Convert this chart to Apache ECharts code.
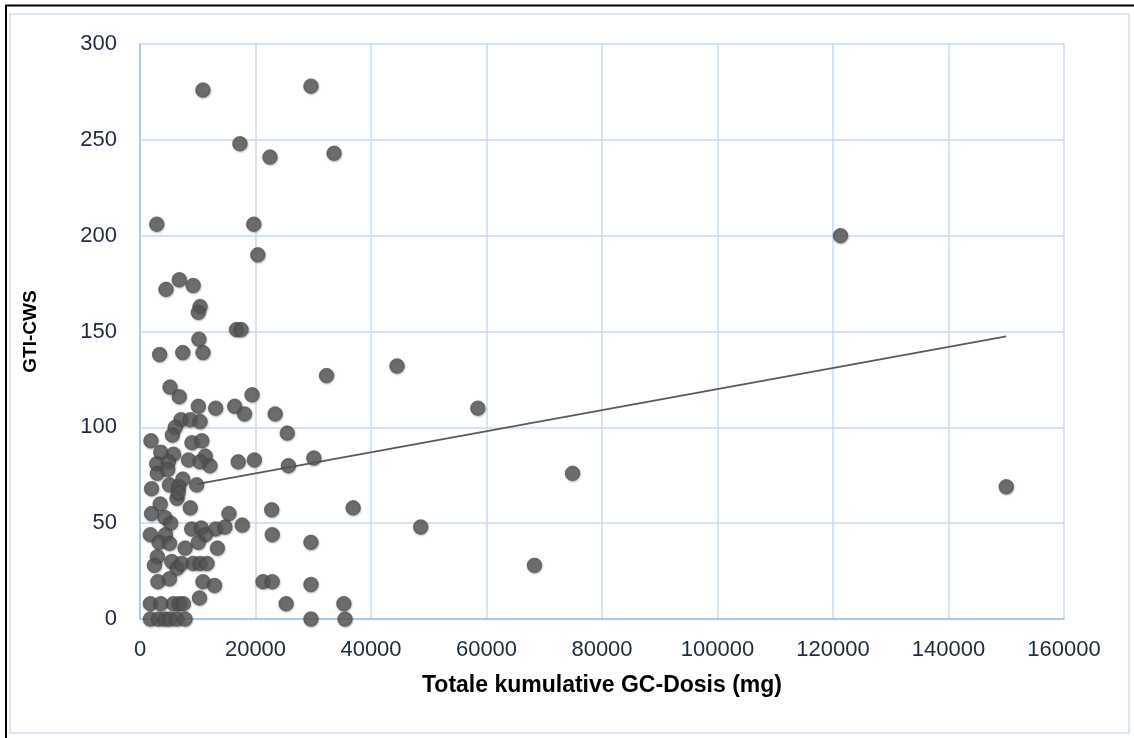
<!DOCTYPE html>
<html>
<head>
<meta charset="utf-8">
<script src="https://cdn.jsdelivr.net/npm/echarts@6/dist/echarts.min.js"></script>
<style>
  html, body { margin: 0; padding: 0; background: #ffffff; }
  #chart { width: 1134px; height: 738px; }
</style>
</head>
<body>
<div id="chart"></div>
<script>
// Cumulative glucocorticoid dose (mg) vs. GTI-CWS score, one point per patient
const doseMg = [
  10900, 29600, 17300, 22500, 33600, 2900, 19700, 20400, 6800, 4500,
  9200, 10400, 10100, 16700, 17500, 10200, 3400, 7400, 10900, 32300,
  44500, 5200, 6800, 19400, 10100, 13100, 16400, 18100, 23400, 58500,
  121300, 150000, 74900, 68300, 48600, 36900, 25500, 25700, 30100,
  7100, 8700, 10400, 6100, 5600, 1900, 9000, 10700, 3600, 5800,
  8400, 11300, 10400, 12100, 17000, 19800, 2900, 4900,
  3000, 4800, 7400, 5100, 6700, 9800, 2000, 6400, 6600,
  3500, 8700, 2000, 4300, 15400, 22800, 5300,
  8950, 10600, 13100, 14700, 17700,
  1800, 4400, 11300, 22900,
  3300, 5100, 10100, 29600,
  7800, 13400,
  3000, 2500, 5500, 6400, 7200, 9200, 10400, 11600,
  3100, 5100, 10900, 12900, 21300, 22900, 29600,
  10300,
  1800, 3600, 5800, 6800, 7500, 25300, 35300,
  1800, 3200, 4300, 5200, 6400, 7800, 29600, 35500
];
const gtiCws = [
  276, 278, 248, 241, 243, 206, 206, 190, 177, 172,
  174, 163, 160, 151, 151, 146, 138, 139, 139, 127,
  132, 121, 116, 117, 111, 110, 111, 107, 107, 110,
  200, 69, 76, 28, 48, 58, 97, 80, 84,
  104, 104, 103, 100, 96, 93, 92, 93, 87, 86,
  83, 85, 82, 80, 82, 83, 81, 82,
  76, 78, 73, 70, 69, 70, 68, 63, 66,
  60, 58, 55, 53, 55, 57, 50,
  47, 47.5, 47, 48, 49,
  44, 44, 44, 44,
  40, 39.5, 40, 40,
  37, 37,
  32.5, 28, 30, 26.5, 29, 29, 29, 29,
  19.5, 21, 19.5, 17.5, 19.5, 19.5, 18,
  11,
  8, 8, 8, 8, 8, 8, 8,
  0, 0, 0, 0, 0, 0, 0, 0
];

// Linear trend line endpoints (dose, score)
const trendDose = [9800, 150000];
const trendScore = [70.4, 147.5];

// Axis ranges and tick steps
const xTicks = [0, 20000, 40000, 60000, 80000, 100000, 120000, 140000, 160000];
const yTicks = [0, 50, 100, 150, 200, 250, 300];

const xTitle = 'Totale kumulative GC-Dosis (mg)';
const yTitle = 'GTI-CWS';

const points = doseMg.map((d, i) => [d, gtiCws[i]]);
const trend = trendDose.map((d, i) => [d, trendScore[i]]);

const gridColor = '#c6dbf0';
const axisColor = '#9cc2e5';
const textColor = '#1e2b44';
const font = 'Liberation Sans, Arial, sans-serif';

const chart = echarts.init(document.getElementById('chart'), null, { renderer: 'canvas' });

chart.setOption({
  backgroundColor: '#ffffff',
  animation: false,
  graphic: [
    // outer chart-area frame
    {
      type: 'rect', silent: true, z: -10,
      shape: { x: 10, y: 14, width: 1119, height: 719 },
      style: { fill: '#ffffff', stroke: '#cfe0f2', lineWidth: 1.5 }
    },
    // dark border on top and left
    {
      type: 'polyline', silent: true, z: 10,
      shape: { points: [[6, 738], [6, 5.5], [1134, 5.5]] },
      style: { fill: null, stroke: '#000000', lineWidth: 2 }
    }
  ],
  grid: { left: 140, right: 70, top: 44, bottom: 119, containLabel: false },
  xAxis: {
    type: 'value',
    min: xTicks[0],
    max: xTicks[xTicks.length - 1],
    interval: xTicks[1] - xTicks[0],
    name: xTitle,
    nameLocation: 'middle',
    nameGap: 55,
    nameTextStyle: { fontFamily: font, fontSize: 23, fontWeight: 'bold', color: '#000000' },
    axisLine: { show: true, onZero: false, lineStyle: { color: axisColor, width: 1.5 } },
    axisTick: { show: false },
    axisLabel: {
      margin: 20, fontFamily: font, fontSize: 22, color: textColor,
      formatter: (v) => String(v)
    },
    splitLine: { show: true, lineStyle: { color: gridColor, width: 1.5 } }
  },
  yAxis: {
    type: 'value',
    min: yTicks[0],
    max: yTicks[yTicks.length - 1],
    interval: yTicks[1] - yTicks[0],
    name: yTitle,
    nameLocation: 'middle',
    nameGap: 100,
    nameRotate: 90,
    nameTextStyle: { fontFamily: font, fontSize: 19, fontWeight: 'bold', color: '#000000' },
    axisLine: { show: true, onZero: false, lineStyle: { color: axisColor, width: 1.5 } },
    axisTick: { show: false },
    axisLabel: {
      margin: 23, fontFamily: font, fontSize: 22, color: textColor,
      formatter: (v) => String(v)
    },
    splitLine: { show: true, lineStyle: { color: gridColor, width: 1.5 } }
  },
  series: [
    {
      type: 'line',
      data: trend,
      symbol: 'none',
      silent: true,
      z: 2,
      lineStyle: { color: '#595959', width: 1.8 }
    },
    {
      type: 'scatter',
      data: points,
      symbol: 'circle',
      symbolSize: 14.5,
      z: 3,
      itemStyle: {
        color: '#595959',
        borderColor: '#4a4a4a',
        borderWidth: 0.8,
        shadowColor: 'rgba(0,0,0,0.35)',
        shadowBlur: 2,
        shadowOffsetX: 0.5,
        shadowOffsetY: 1
      }
    }
  ]
});
</script>
</body>
</html>
